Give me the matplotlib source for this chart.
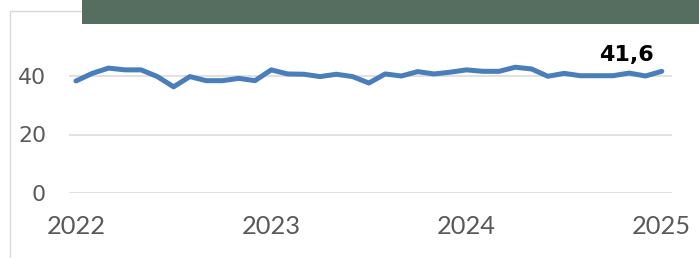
import matplotlib
matplotlib.use('Agg')
import matplotlib.pyplot as plt
from matplotlib.patches import Rectangle

# monthly values, Jan 2022 .. Jan 2025
values_2022 = [38.3, 40.9, 42.7, 42.1, 42.1, 39.8, 36.3, 39.8, 38.4, 38.4, 39.2, 38.4]
values_2023 = [42.1, 40.7, 40.6, 39.8, 40.6, 39.8, 37.6, 40.7, 40.0, 41.5, 40.7, 41.3]
values_2024 = [42.1, 41.6, 41.6, 43.0, 42.4, 39.9, 40.9, 40.1, 40.1, 40.1, 41.0, 40.0]
values_2025 = [41.6]
values = values_2022 + values_2023 + values_2024 + values_2025
months = list(range(len(values)))

year_labels = ['2022', '2023', '2024', '2025']
year_ticks = [0, 12, 24, 36]
y_ticks = [0, 20, 40]
last_label = '41,6'

W, H = 699, 258
fig = plt.figure(figsize=(W / 100, H / 100), dpi=100)

# outer light frame (cropped by the image edge)
fig.patches.append(Rectangle((9.5 / W, -0.1), 2.0, 1 - 10.7 / H + 0.1,
                             transform=fig.transFigure, fill=False,
                             edgecolor='#d9d9d9', linewidth=1.0, zorder=0))

ax_left, ax_right = 69 / W, 672 / W
ax_bottom = (H - 193) / H
ax_top = (H - 23.35) / H
ax = fig.add_axes([ax_left, ax_bottom, ax_right - ax_left, ax_top - ax_bottom])
ax.patch.set_alpha(0)

ax.plot(months, values, color='#4a7ebb', linewidth=3.6,
        solid_joinstyle='round', solid_capstyle='round', zorder=3)

ax.set_xlim(-0.43, 36.63)
ax.set_ylim(0, 58)
ax.set_yticks(y_ticks)
ax.set_yticklabels([str(v) for v in y_ticks])
ax.set_xticks(year_ticks)
ax.set_xticklabels(year_labels)
ax.grid(axis='y', color='#d9d9d9', linewidth=1.1, zorder=1)
for s in ax.spines.values():
    s.set_visible(False)

ax.tick_params(axis='y', length=0, pad=16.5, labelsize=15.8, labelcolor='#595959')
ax.tick_params(axis='x', length=0, pad=15.5, labelcolor='#595959')
for t in ax.get_xticklabels():
    t.set_fontfamily('Lato')
    t.set_fontsize(18.3)

ax.annotate(last_label, xy=(months[-1], values[-1]), xytext=(-25.5, 11.5),
            textcoords='offset points', ha='center', va='center',
            fontsize=16, fontweight='bold', color='black')

# dark green title banner at the top
fig.patches.append(Rectangle((82 / W, (H - 24) / H), 1.0, 24 / H + 0.1,
                             transform=fig.transFigure, facecolor='#556e5f',
                             edgecolor='none', zorder=5))

fig.savefig('out.png', dpi=100)
